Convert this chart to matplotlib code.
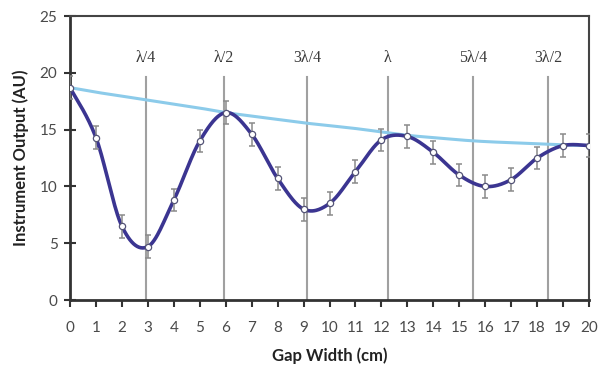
import matplotlib
matplotlib.use("Agg")
import matplotlib.pyplot as plt
import numpy as np

# measured points (gap width in cm, output in AU)
gap = list(range(21))
output = [18.7, 14.3, 6.5, 4.7, 8.8, 14.0, 16.5, 14.6, 10.7, 8.0, 8.5,
          11.3, 14.1, 14.4, 13.0, 11.0, 10.0, 10.6, 12.5, 13.6, 13.6]
err = [1.0] * 21

# envelope (light blue) read at each integer gap
envelope = [18.7, 18.3, 17.95, 17.6, 17.25, 16.9, 16.5, 16.2, 15.9, 15.6, 15.35,
            15.1, 14.8, 14.5, 14.3, 14.1, 13.95, 13.85, 13.75, 13.65, 13.6]

# wavelength markers
marker_x = [2.93, 5.93, 9.13, 12.25, 15.53, 18.42]
marker_labels = ["λ/4", "λ/2", "3λ/4", "λ", "5λ/4", "3λ/2"]


def smooth(xs, ys, n=30):
    # Excel-style smoothed line (cubic Bezier with 1/6 tangents)
    xs = np.asarray(xs, float)
    ys = np.asarray(ys, float)
    P = np.column_stack([xs, ys])
    P = np.vstack([P[0], P, P[-1]])
    out = []
    t = np.linspace(0, 1, n)[:, None]
    for i in range(1, len(P) - 2):
        p0, p3 = P[i], P[i + 1]
        c1 = p0 + (P[i + 1] - P[i - 1]) / 6
        c2 = p3 - (P[i + 2] - P[i]) / 6
        seg = (1 - t) ** 3 * p0 + 3 * (1 - t) ** 2 * t * c1 + 3 * (1 - t) * t ** 2 * c2 + t ** 3 * p3
        out.append(seg)
    out = np.vstack(out)
    return out[:, 0], out[:, 1]


fig = plt.figure(figsize=(6.05, 3.65), dpi=100)
ax = fig.add_axes([0.1157, 0.178, 0.8579, 0.778])

for mx, lab in zip(marker_x, marker_labels):
    ax.plot([mx, mx], [0, 19.6], color="#a0a0a0", lw=1.5, zorder=1)
    ax.text(mx, 21.3, lab, ha="center", va="center", fontsize=11.5,
            family="Liberation Serif", color="#3a3a3a")

ex, ey = smooth(gap, envelope)
ax.plot(ex, ey, color="#8ccbea", lw=2.2, zorder=2)

sx, sy = smooth(gap, output)
ax.plot(sx, sy, color="#3b3591", lw=2.6, zorder=3)

ax.errorbar(gap, output, yerr=err, fmt="none", ecolor="#8a8a8a", elinewidth=1.1,
            capsize=2.5, capthick=1.1, zorder=4)
ax.plot(gap, output, "o", ms=4.5, mfc="white", mec="#555577", mew=0.9, zorder=5)

ax.set_xlim(0, 20)
ax.set_ylim(0, 25)
ax.set_xticks(range(0, 21))
ax.set_yticks(range(0, 26, 5))
ax.tick_params(axis="x", direction="out", length=5, width=1.5, colors="#333333",
               labelsize=11, labelcolor="#4a4a4a", pad=10)
ax.tick_params(axis="y", direction="inout", length=8, width=1.5, colors="#333333",
               labelsize=11, labelcolor="#4a4a4a", pad=5)
for lbl in ax.get_xticklabels() + ax.get_yticklabels():
    lbl.set_family("Lato")

for side in ["left", "bottom"]:
    ax.spines[side].set_linewidth(2)
    ax.spines[side].set_color("#333333")
for side in ["top", "right"]:
    ax.spines[side].set_linewidth(1.5)
    ax.spines[side].set_color("#444444")

ax.set_xlabel("Gap Width (cm)", fontsize=12, fontweight="bold", family="Lato",
              color="#222222", labelpad=9)
ax.set_ylabel("Instrument Output (AU)", fontsize=12, fontweight="bold", family="Lato",
              color="#222222", labelpad=8)

fig.savefig("out.png", dpi=100)
